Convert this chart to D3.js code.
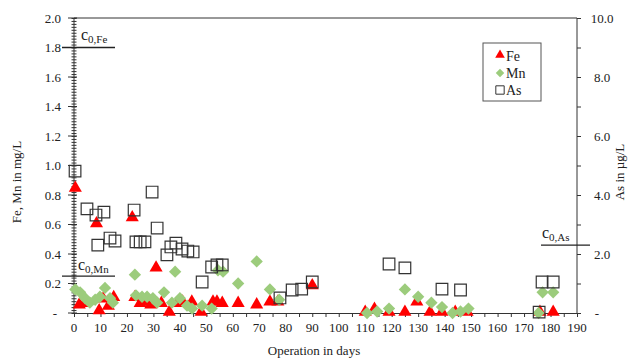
<!DOCTYPE html>
<html lang="en">
<head>
    <script src="https://d3js.org/d3.v7.min.js"></script>
    <style>
        body { margin: 0; background: #fff; }
        text { font-family: "Liberation Serif", "Times New Roman", serif; fill: #222; }
    </style>
</head>
<body>
    <script>
        // data
        const feDays = [0.5, 2, 4, 8.5, 9.5, 11, 13, 15, 22, 23, 25, 27, 29, 31, 33, 36, 39, 41, 44.5, 48,
            52.5, 54, 56, 62, 69, 74, 77, 90, 110, 113.5, 119, 125, 129.5, 134.5, 139, 144, 148.5, 176, 181];
        const feVals = [0.84, 0.05, 0.06, 0.60, 0.01, 0.09, 0.04, 0.10, 0.64, 0.10, 0.06, 0.07, 0.05, 0.30, 0.06,
            0.00, 0.06, 0.07, 0.07, 0.00, 0.07, 0.07, 0.06, 0.06, 0.05, 0.07, 0.07, 0.18, 0.00, 0.02,
            0.00, 0.00, 0.07, 0.00, 0.00, 0.00, 0.00, 0.00, 0.00];

        const mnDays = [0.5, 2.3, 4.2, 6, 8, 9.8, 11.7, 13.6, 14.7, 23, 23.4, 25.7, 27.6, 29.8, 31.4, 34, 37, 38.2,
            40, 42.7, 44.6, 48.4, 52, 54.4, 56.3, 62, 69, 74, 77.5, 110.7, 114.5, 119, 125, 130, 135, 139,
            143, 146, 149, 175.5, 177, 181];
        const mnVals = [0.16, 0.14, 0.10, 0.07, 0.09, 0.11, 0.17, 0.10, 0.07, 0.26, 0.12, 0.11, 0.11, 0.10, 0.07,
            0.14, 0.07, 0.28, 0.10, 0.05, 0.03, 0.05, 0.03, 0.29, 0.28, 0.20, 0.35, 0.16, 0.09, 0.00,
            0.01, 0.03, 0.16, 0.11, 0.07, 0.04, 0.00, 0.01, 0.03, 0.00, 0.14, 0.14];

        const asDays = [0.4, 4.9, 8.3, 11.3, 9, 13.6, 15.5, 22.7, 23.4, 25, 26.8, 29.5, 31.4, 35.1, 36.6, 38.5,
            40.8, 43, 45, 48.4, 52, 54, 56, 77.8, 82.4, 86, 90, 119, 125, 139, 146, 175.7, 176.8, 181];
        const asVals = [4.81, 3.53, 3.32, 3.42, 2.30, 2.54, 2.44, 3.49, 2.41, 2.41, 2.41, 4.10, 2.88, 1.97, 2.24,
            2.37, 2.17, 2.10, 2.07, 1.05, 1.56, 1.63, 1.63, 0.51, 0.78, 0.81, 1.05, 1.66, 1.53, 0.81,
            0.78, 0.03, 1.05, 1.05];

        const xTicks = d3.range(0, 191, 10);
        const leftTicks = [0, 0.2, 0.4, 0.6, 0.8, 1.0, 1.2, 1.4, 1.6, 1.8, 2.0];
        const rightTicks = [0, 2, 4, 6, 8, 10];

        // limit values
        const c0Fe = 1.8, c0Mn = 0.25, c0As = 2.3;

        const W = 629, H = 358;
        const svg = d3.select("body").append("svg").attr("width", W).attr("height", H);

        const x = d3.scaleLinear().domain([0, 190]).range([74, 577]);
        const yL = d3.scaleLinear().domain([0, 2]).range([313, 18]);
        const yR = d3.scaleLinear().domain([0, 10]).range([313, 18]);

        const fmtL = d => d === 0 ? "-" : d3.format(".1f")(d);

        // top border
        svg.append("line").attr("x1", x(0)).attr("x2", x(190)).attr("y1", yL(2)).attr("y2", yL(2))
            .attr("stroke", "#333");

        // x axis
        const xAx = svg.append("g").attr("transform", `translate(0,${yL(0)})`)
            .call(d3.axisBottom(x).tickValues(d3.range(0, 191, 5)).tickSize(4).tickFormat(""));
        xAx.select(".domain").attr("stroke", "#333");
        xAx.selectAll(".tick line").attr("stroke", "#333");
        svg.append("g").selectAll("text").data(xTicks).enter().append("text")
            .attr("x", d => x(d)).attr("y", 332).attr("text-anchor", "middle")
            .attr("font-size", 13).text(d => d);

        // left axis with minor ticks
        const lAx = svg.append("g").attr("transform", `translate(${x(0)},0)`)
            .call(d3.axisLeft(yL).tickValues(d3.range(0, 2.001, 0.02)).tickSize(2.5).tickFormat(""));
        lAx.selectAll(".tick line").attr("stroke", "#333").attr("x2", 2.5).attr("x1", -2.5);
        lAx.select(".domain").attr("stroke", "#333").attr("d", `M0,${yL(0)}V${yL(2)}`);
        svg.append("g").selectAll("line").data(leftTicks).enter().append("line")
            .attr("x1", x(0) - 6).attr("x2", x(0) + 3)
            .attr("y1", d => yL(d)).attr("y2", d => yL(d)).attr("stroke", "#333");
        svg.append("g").selectAll("text").data(leftTicks).enter().append("text")
            .attr("x", d => d === 0 ? 57 : 61).attr("y", d => yL(d) + 4.5).attr("text-anchor", "end")
            .attr("font-size", 13).text(fmtL);

        // right axis
        const rAx = svg.append("g").attr("transform", `translate(${x(190)},0)`)
            .call(d3.axisRight(yR).tickValues(d3.range(0, 11, 1)).tickSize(4).tickFormat(""));
        rAx.select(".domain").attr("stroke", "#333").attr("d", `M0,${yR(0)}V${yR(10)}`);
        rAx.selectAll(".tick line").attr("stroke", "#333");
        svg.append("g").selectAll("text").data(rightTicks).enter().append("text")
            .attr("x", d => d === 0 ? 597 : 602).attr("y", d => yR(d) + 4.5).attr("text-anchor", "middle")
            .attr("font-size", 13).text(d => d === 0 ? "-" : d3.format(".1f")(d));

        // axis titles
        svg.append("text").attr("transform", "translate(21,182) rotate(-90)")
            .attr("text-anchor", "middle").attr("font-size", 13).text("Fe, Mn in mg/L");
        svg.append("text").attr("transform", "translate(624,172) rotate(-90)")
            .attr("text-anchor", "middle").attr("font-size", 13).text("As in µg/L");
        svg.append("text").attr("x", 314).attr("y", 355)
            .attr("text-anchor", "middle").attr("font-size", 13).text("Operation in days");

        // limit lines
        function limit(y, x1, x2, tx, ty, sub) {
            svg.append("line").attr("x1", x1).attr("x2", x2).attr("y1", y).attr("y2", y)
                .attr("stroke", "#222").attr("stroke-width", 1.3);
            const t = svg.append("text").attr("x", tx).attr("y", ty).attr("font-size", 16);
            t.append("tspan").text("c");
            t.append("tspan").attr("font-size", 11).attr("dy", 3).text(sub);
        }
        limit(yL(c0Fe), 62, 115, 81, 40, "0,Fe");
        limit(yL(c0Mn), 62, 115, 78, 270, "0,Mn");
        limit(yR(c0As), 541, 590, 542, 238, "0,As");

        // series
        const tri = d3.symbol().type(d3.symbolTriangle).size(74);
        const dia = d3.symbol().type(d3.symbolSquare).size(76);
        const sq = d3.symbol().type(d3.symbolSquare).size(135);

        const fe = feDays.map((d, i) => [d, feVals[i]]);
        const mn = mnDays.map((d, i) => [d, mnVals[i]]);
        const as = asDays.map((d, i) => [d, asVals[i]]);

        svg.append("g").selectAll("path").data(fe).enter().append("path")
            .attr("d", tri).attr("fill", "#ff0000")
            .attr("transform", d => `translate(${x(d[0])},${yL(d[1]) - 1})`);
        svg.append("g").selectAll("path").data(mn).enter().append("path")
            .attr("d", dia).attr("fill", "#9ccc7c")
            .attr("transform", d => `translate(${x(d[0])},${yL(d[1])}) rotate(45)`);
        svg.append("g").selectAll("path").data(as).enter().append("path")
            .attr("d", sq).attr("fill", "none").attr("stroke", "#333").attr("stroke-width", 1.2)
            .attr("transform", d => `translate(${x(d[0])},${yR(d[1])})`);

        // legend
        const lg = svg.append("g");
        lg.append("rect").attr("x", 483).attr("y", 43).attr("width", 58).attr("height", 58)
            .attr("fill", "#fff").attr("stroke", "#555");
        const items = [["Fe", 56], ["Mn", 73], ["As", 90]];
        lg.append("path").attr("d", d3.symbol().type(d3.symbolTriangle).size(40))
            .attr("fill", "#ff0000").attr("transform", "translate(500,55)");
        lg.append("path").attr("d", d3.symbol().type(d3.symbolSquare).size(36))
            .attr("fill", "#9ccc7c").attr("transform", "translate(500,73) rotate(45)");
        lg.append("path").attr("d", d3.symbol().type(d3.symbolSquare).size(70))
            .attr("fill", "none").attr("stroke", "#333").attr("transform", "translate(500,90)");
        lg.selectAll("text").data(items).enter().append("text")
            .attr("x", 506).attr("y", d => d[1] + 4.5).attr("font-size", 14).text(d => d[0]);
    </script>
</body>
</html>
